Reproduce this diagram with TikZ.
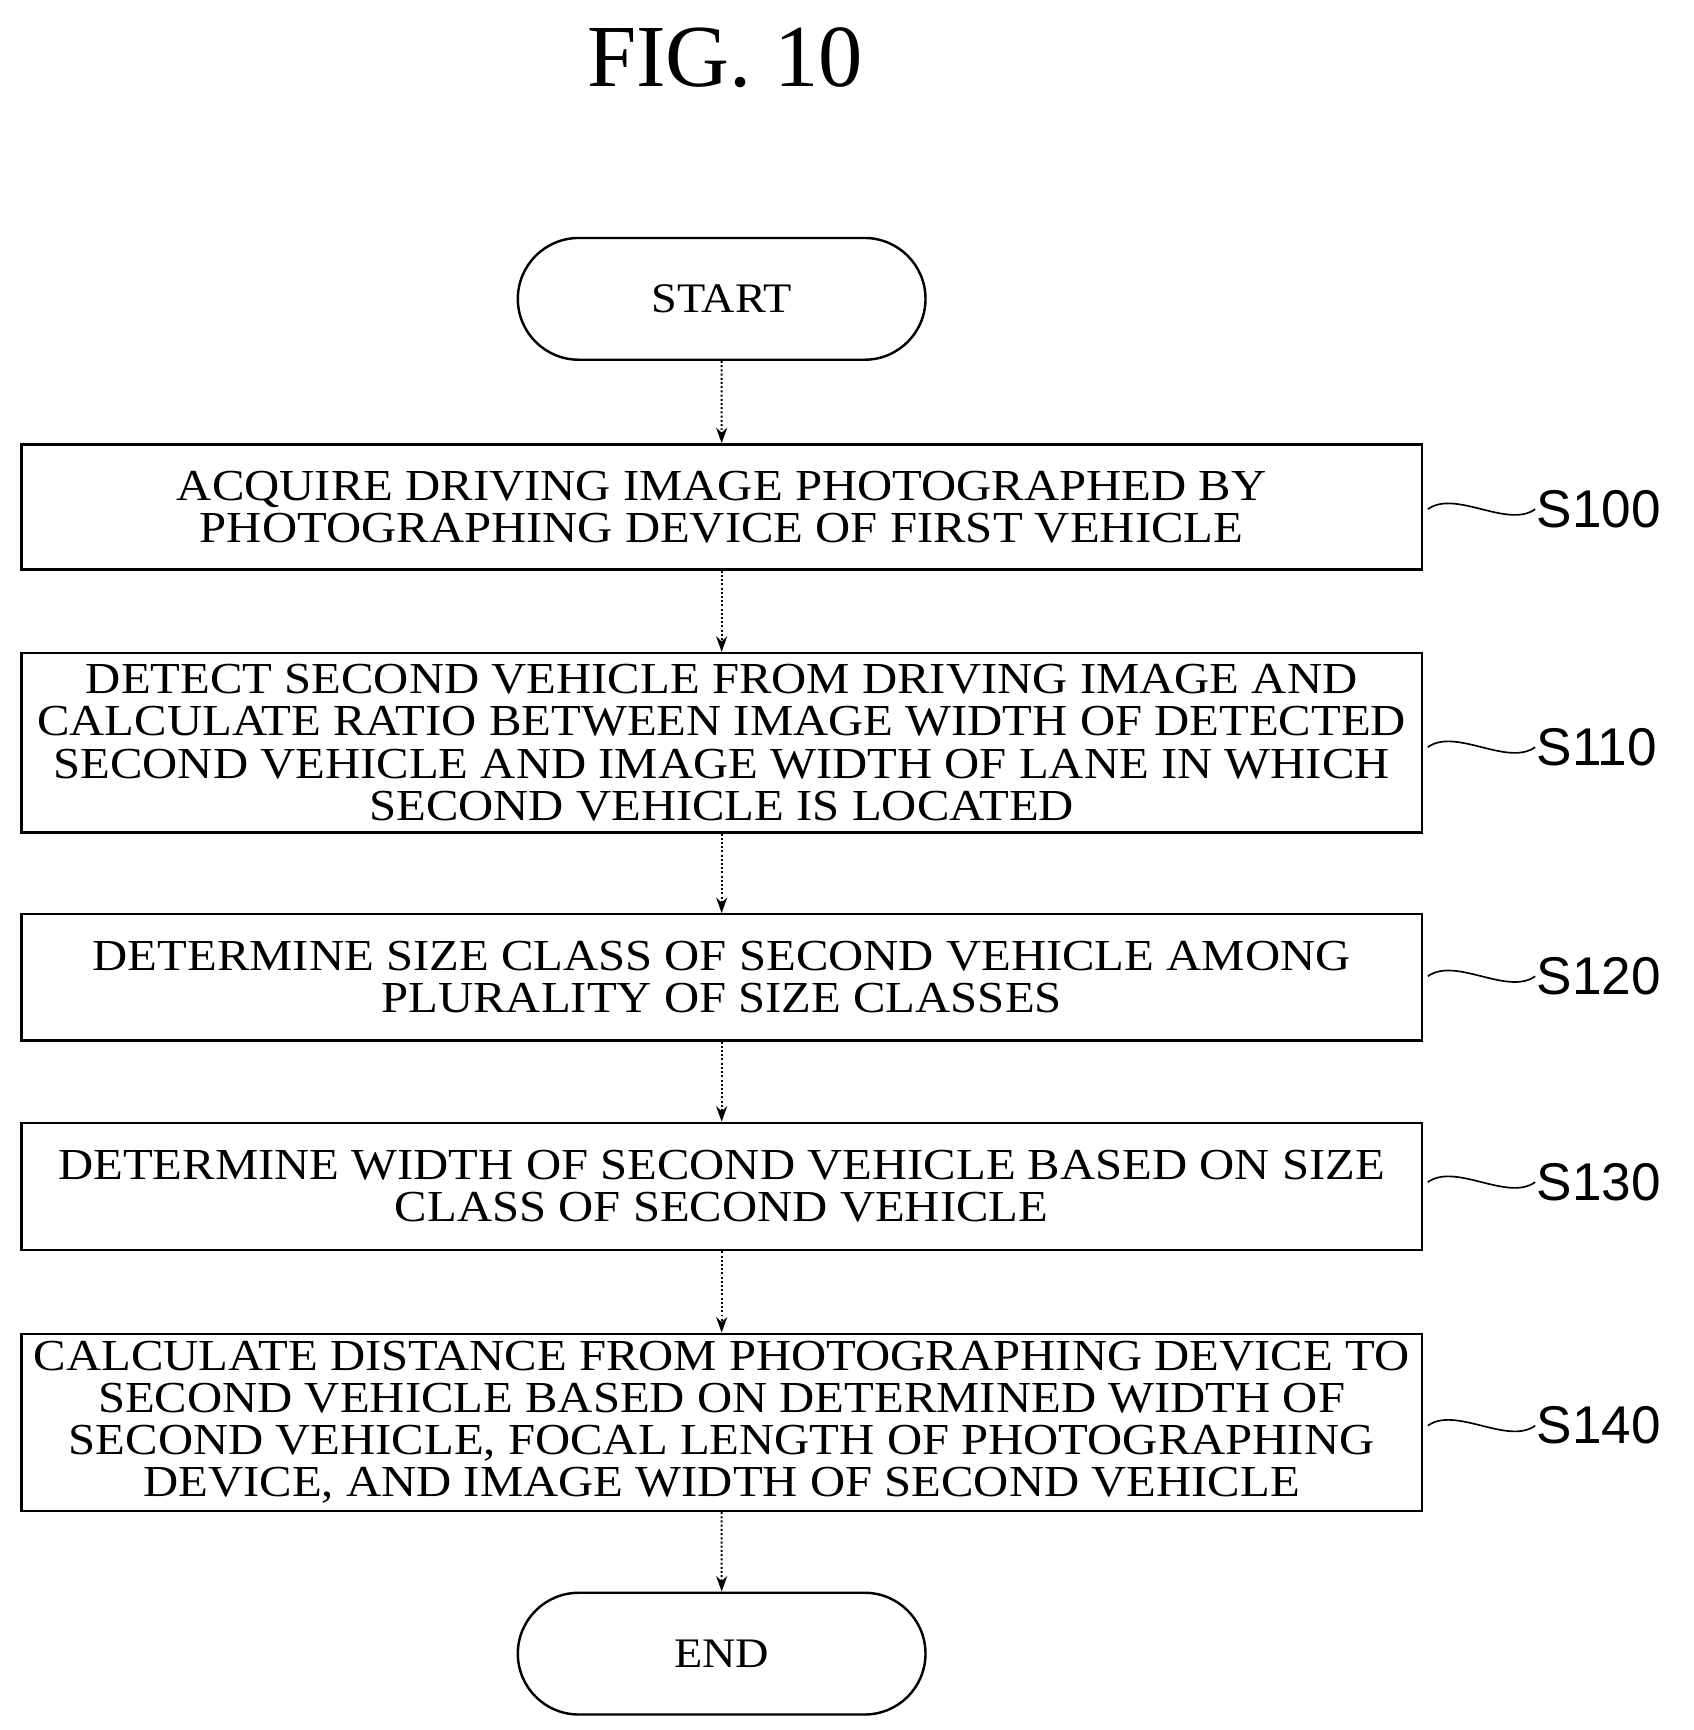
\documentclass[tikz,border=0pt]{standalone}
\usepackage{fontspec}
\setmainfont{Liberation Serif}
\newfontfamily\lbl{Liberation Sans}
\newfontfamily\boxfont[FakeStretch=1.1]{Liberation Serif}
\usetikzlibrary{shapes.misc,arrows.meta}
\begin{document}
\begin{tikzpicture}[x=1pt,y=1pt,
  box/.style={draw,line width=2.2pt,minimum width=1265pt,align=center,inner sep=0pt,font=\boxfont\fontsize{40}{38}\selectfont},
  term/.style={draw,line width=2.2pt,rounded rectangle,minimum width=375pt,minimum height=110pt,font=\boxfont\fontsize{38}{38}\selectfont},
  lab/.style={font=\lbl\fontsize{48}{48}\selectfont,anchor=west},
  arr/.style={dotted,line width=1.8pt,-{Stealth[length=14pt,width=10pt,fill=black]}},
  wave/.style={line width=1.5pt}]
\useasboundingbox (0,0) rectangle (1530,-1563);
\node[font=\fontsize{80}{80}\selectfont] (title) at (655,-52) {FIG. 10};
\node[term] (start) at (652,-270) {START};
\node[box,minimum height=113pt] (b1) at (652,-458) {ACQUIRE DRIVING IMAGE PHOTOGRAPHED BY\\PHOTOGRAPHING DEVICE OF FIRST VEHICLE};
\node[box,minimum height=162pt] (b2) at (652,-671) {DETECT SECOND VEHICLE FROM DRIVING IMAGE AND\\CALCULATE RATIO BETWEEN IMAGE WIDTH OF DETECTED\\SECOND VEHICLE AND IMAGE WIDTH OF LANE IN WHICH\\SECOND VEHICLE IS LOCATED};
\node[box,minimum height=114pt] (b3) at (652,-883) {DETERMINE SIZE CLASS OF SECOND VEHICLE AMONG\\PLURALITY OF SIZE CLASSES};
\node[box,minimum height=115pt] (b4) at (652,-1072) {DETERMINE WIDTH OF SECOND VEHICLE BASED ON SIZE\\CLASS OF SECOND VEHICLE};
\node[box,minimum height=160pt] (b5) at (652,-1285) {CALCULATE DISTANCE FROM PHOTOGRAPHING DEVICE TO\\SECOND VEHICLE BASED ON DETERMINED WIDTH OF\\SECOND VEHICLE, FOCAL LENGTH OF PHOTOGRAPHING\\DEVICE, AND IMAGE WIDTH OF SECOND VEHICLE};
\node[term] (end) at (652,-1494) {END};
\foreach \a/\b in {start/b1,b1/b2,b2/b3,b3/b4,b4/b5,b5/end}
  \draw[arr] (\a) -- (\b);
\foreach \b/\t/\y in {b1/S100/-460,b2/S110/-675,b3/S120/-882,b4/S130/-1068,b5/S140/-1288}{
  \node[lab] (l\t) at (1385,\y) {\t};
  \coordinate (w\t) at (1290,\y);
  \draw[wave] (w\t) .. controls +(25,18) and +(-25,-18) .. ([xshift=2pt]l\t.west);
}
\end{tikzpicture}
\end{document}
